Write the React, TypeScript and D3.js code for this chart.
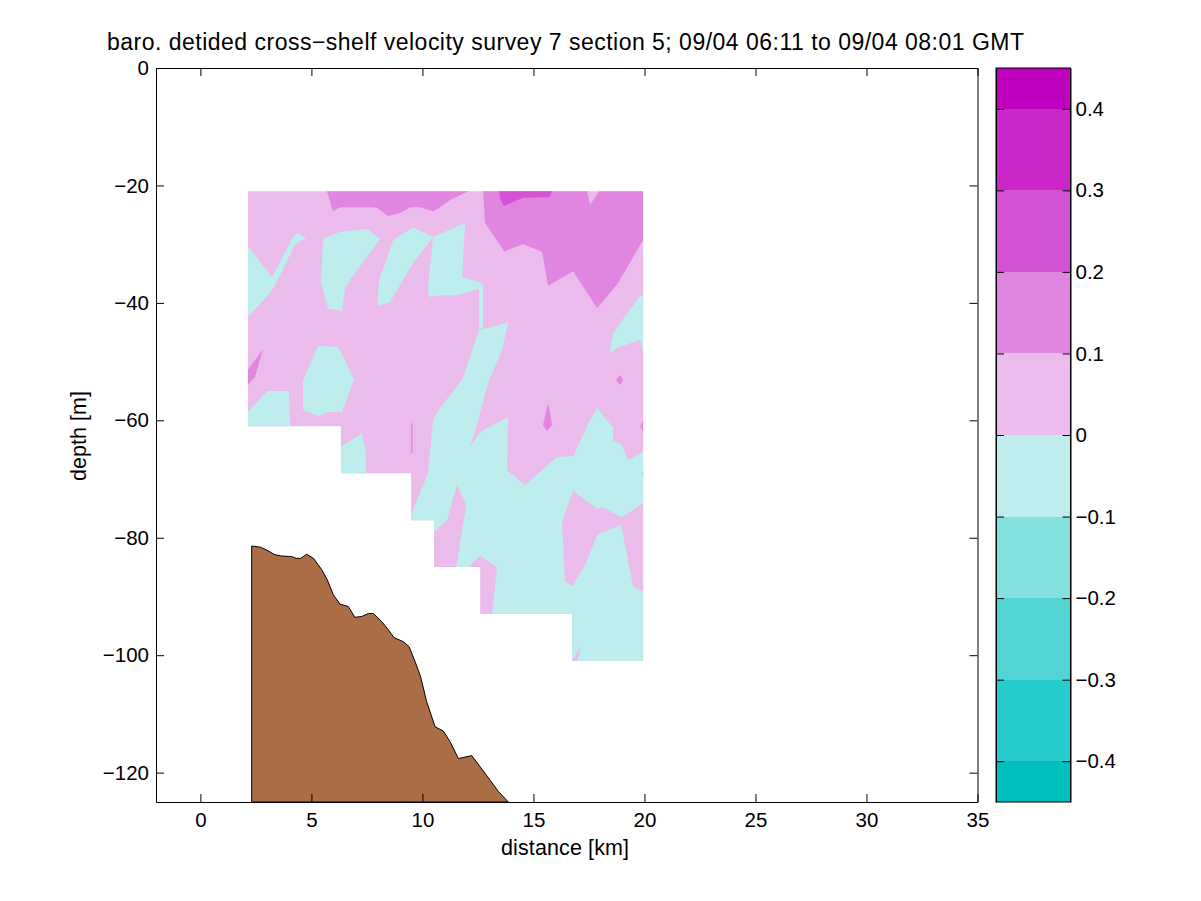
import * as d3 from "d3";
import { useEffect, useRef } from "react";

type Pt = [number, number];

const xTicks = [0, 5, 10, 15, 20, 25, 30, 35];
const yTicks = [0, -20, -40, -60, -80, -100, -120];
const barTicks = [-0.4, -0.3, -0.2, -0.1, 0, 0.1, 0.2, 0.3, 0.4];

const levelEdges = [-0.45, -0.4, -0.3, -0.2, -0.1, 0, 0.1, 0.2, 0.3, 0.4, 0.45];
const levelColors = [
  "#00bfbf",
  "#26cbcb",
  "#53d4d4",
  "#85e0e0",
  "#bdeded",
  "#ebbbeb",
  "#e085e0",
  "#d453d4",
  "#cb26c7",
  "#bf00bf",
];

// grid outline of the section, in km and m
const sectionOutline: Pt[] = [
  [2.14, -21], [19.94, -21], [19.94, -101], [16.74, -101], [16.74, -93],
  [12.6, -93], [12.6, -85], [10.52, -85], [10.52, -77], [9.49, -77],
  [9.49, -69], [6.33, -69], [6.33, -61], [2.14, -61],
];

// -0.1 to 0
const negativeAreas: Pt[][] = [
  [[2.14, -30.3], [3.23, -35.6], [4.17, -28.8], [4.4, -28.1], [4.76, -29], [4.49, -29.5], [4.26, -30.1], [3.36, -37], [3.14, -38.3], [2.14, -42.4]],
  [[5.52, -29.1], [6.29, -27.9], [7.51, -27.4], [8.09, -29.1], [6.74, -36.1], [6.51, -37.5], [6.38, -41.4], [5.75, -41], [5.43, -36.4]],
  [[8.68, -29.3], [9.58, -27.1], [10.48, -28.8], [9.58, -33.2], [8.54, -39.9], [7.96, -40.5], [8.05, -36.1]],
  [[10.48, -28.8], [11.92, -26.4], [11.79, -35.6], [12.69, -36.6], [12.55, -37.6], [11.6, -38.7], [10.79, -38.7], [10.3, -39], [10.25, -37.3]],
  [[12.55, -37.6], [12.73, -36.6], [12.73, -44.1], [12.55, -44.6]],
  [[5.3, -47.3], [6.2, -47.5], [6.51, -49.7], [6.92, -53.1], [6.38, -58.6], [5.75, -58.6], [5.3, -59.3], [4.62, -58.2], [4.62, -53.1]],
  [[2.14, -58.6], [3, -55], [3.99, -55], [4.04, -61], [2.14, -61]],
  [[6.33, -64.5], [7.28, -62.2], [7.46, -65.6], [7.46, -69], [6.33, -69]],
  [[19.81, -38.7], [19.94, -39], [19.94, -48.4], [19.81, -46.3], [18.77, -47.7], [18.41, -48.7], [18.59, -45.1]],
  [
    [12.55, -44.6], [13.86, -43.4], [13.59, -48], [12.96, -53.6], [12.37, -62], [12.1, -64.7], [12.6, -62],
    [13.86, -59.4], [13.81, -68.5], [14.62, -71], [16.07, -66.2], [16.79, -66.1], [17.55, -59.9], [17.87, -57.9],
    [18.59, -61.3], [18.59, -63.4], [18.99, -64.2], [19.26, -66.8], [19.94, -65.4], [19.94, -101], [16.74, -101],
    [16.74, -93], [13.14, -93], [13.36, -85], [12.6, -83.1], [12.06, -85], [11.52, -85], [11.97, -74.4], [11.56, -71],
    [11.11, -77], [10.52, -79], [10.52, -77], [9.49, -77], [9.49, -76.1], [10.25, -69], [10.48, -59.9], [10.79, -57.9], [11.79, -53.1],
  ],
];

// back to 0 to 0.1 inside the lower negative area
const positivePockets: Pt[][] = [
  [[16.79, -72], [16.29, -77.3], [16.42, -87.5], [16.74, -88.2], [17.33, -84.6], [17.87, -79.5], [18.95, -77.8], [19.49, -88.4], [19.94, -89.1], [19.94, -74.1], [18.99, -76.5], [18.09, -74.8], [17.87, -75.1]],
  [[16.74, -101], [17.15, -98.3], [16.97, -101]],
];

// 0.1 to 0.2
const midPositiveAreas: Pt[][] = [
  [[5.7, -21], [5.97, -24.4], [6.29, -23.7], [7.55, -23.7], [7.96, -23.8], [8.45, -25.2], [8.99, -24.7], [9.44, -23.7], [9.89, -23.7], [10.48, -24.4], [10.79, -23.7], [11.24, -22.5], [12.06, -21]],
  [[12.73, -21], [12.82, -26.4], [13.68, -31.2], [14.53, -30], [15.39, -31.3], [15.66, -37.1], [16.79, -34.6], [17.87, -40.9], [18.81, -36.6], [19.94, -29.3], [19.94, -21], [17.96, -21], [17.55, -23.3], [17.42, -21]],
  [[2.82, -47.9], [2.46, -52.6], [2.14, -54], [2.14, -51.4]],
  [[18.9, -52.3], [19.04, -53.1], [18.9, -54], [18.72, -53.1]],
  [[15.66, -57.1], [15.84, -60.8], [15.61, -61.8], [15.43, -60.8]],
  [[19.94, -59.9], [19.94, -62], [19.81, -61.1]],
  [[9.49, -60.5], [9.55, -60.5], [9.55, -65.6], [9.49, -65.6]],
];

// 0.2 to 0.3
const highPositiveAreas: Pt[][] = [
  [[13.45, -21], [13.5, -22.3], [13.68, -23.5], [14.53, -22.1], [15.7, -22], [15.84, -21]],
];

// -0.2 to -0.1
const lowNegativeAreas: Pt[][] = [
  [[19.94, -68.6], [19.94, -69.5], [19.85, -69]],
];

const bottomKm = [
  2.31, 2.69, 2.99, 3.36, 3.66, 4.11, 4.31, 4.52, 4.79, 5.09, 5.46, 5.72, 5.99, 6.29, 6.66, 6.96, 7.27, 7.57,
  7.79, 8.17, 8.47, 8.72, 9.14, 9.4, 9.67, 9.92, 10.19, 10.57, 10.94, 11.24, 11.62, 12.22, 12.6, 13.05, 13.42, 13.87,
];
const bottomDepth = [
  -81.4, -81.6, -82.1, -82.9, -83.1, -83.2, -83.5, -83.5, -82.8, -83.5, -85.4, -87.2, -89.75, -91.3, -91.7, -93.55, -93.4, -92.9,
  -92.9, -94.3, -95.7, -97, -97.7, -98.55, -101.1, -103.7, -107.9, -112.2, -112.9, -114.7, -117.6, -117.1, -119, -121.3, -123.2, -125,
];

const titleText = "baro. detided cross\u2212shelf velocity survey 7 section 5; 09/04 06:11 to 09/04 08:01 GMT";
const fontFamily = "'Liberation Sans', Arial, sans-serif";

const plot = { left: 156, right: 977.5, top: 68, bottom: 802 };
const bar = { left: 996, right: 1070.5 };
const tickLen = 8;
const tickFontSize = 20.5;
const labelFontSize = 21.5;

function App() {
  const ref = useRef<SVGSVGElement>(null);

  useEffect(() => {
    const svg = d3.select(ref.current);
    svg.selectAll("*").remove();

    const x = d3.scaleLinear().domain([-2, 35]).range([plot.left, plot.right]);
    const y = d3.scaleLinear().domain([-125, 0]).range([plot.bottom, plot.top]);
    const yBar = d3.scaleLinear().domain([-0.45, 0.45]).range([plot.bottom, plot.top]);

    const line = d3.line<Pt>().x((d) => x(d[0])).y((d) => y(d[1]));
    const shape = (p: Pt[]) => line(p) + "Z";

    const drawAreas = (areas: Pt[][], color: string) =>
      svg
        .append("g")
        .attr("fill", color)
        .selectAll("path")
        .data(areas)
        .join("path")
        .attr("d", shape);

    drawAreas([sectionOutline], levelColors[5]);
    drawAreas(negativeAreas, levelColors[4]);
    drawAreas(positivePockets, levelColors[5]);
    drawAreas(midPositiveAreas, levelColors[6]);
    drawAreas(highPositiveAreas, levelColors[7]);
    drawAreas(lowNegativeAreas, levelColors[3]);

    const bottom: Pt[] = bottomKm.map((k, i) => [k, bottomDepth[i]]);
    svg
      .append("path")
      .attr("d", shape([...bottom, [bottomKm[0], -125]]))
      .attr("fill", "#ab6d45")
      .attr("stroke", "#000")
      .attr("stroke-width", 1);

    // box axes, ticks pointing inwards on all four sides
    const styleAxis = (g: d3.Selection<SVGGElement, unknown, null, undefined>) => {
      g.selectAll("text").attr("font-family", fontFamily).attr("font-size", tickFontSize).attr("fill", "#000");
      g.selectAll("line").attr("stroke", "#000");
      g.select(".domain").attr("stroke", "#000");
    };
    const addAxis = (axis: d3.Axis<d3.NumberValue>, dx: number, dy: number) =>
      svg
        .append("g")
        .attr("transform", `translate(${dx},${dy})`)
        .call(axis as any)
        .call(styleAxis);

    addAxis(d3.axisBottom(x).tickValues(xTicks).tickSize(-tickLen).tickPadding(10).tickSizeOuter(0), 0, plot.bottom);
    addAxis(d3.axisTop(x).tickValues(xTicks).tickSize(-tickLen).tickFormat(() => "").tickSizeOuter(0), 0, plot.top);
    addAxis(d3.axisLeft(y).tickValues(yTicks).tickSize(-tickLen).tickPadding(7).tickSizeOuter(0), plot.left, 0);
    addAxis(d3.axisRight(y).tickValues(yTicks).tickSize(-tickLen).tickFormat(() => "").tickSizeOuter(0), plot.right, 0);

    // colour bar
    svg
      .append("g")
      .attr("shape-rendering", "crispEdges")
      .selectAll("rect")
      .data(levelColors)
      .join("rect")
      .attr("x", bar.left)
      .attr("width", bar.right - bar.left)
      .attr("y", (_, i) => yBar(levelEdges[i + 1]))
      .attr("height", (_, i) => yBar(levelEdges[i]) - yBar(levelEdges[i + 1]))
      .attr("fill", (d) => d);

    const barFormat = (d: d3.NumberValue) => (+d === 0 ? "0" : d3.format(".1f")(+d));
    addAxis(d3.axisRight(yBar).tickValues(barTicks).tickSize(-tickLen).tickPadding(5).tickFormat(barFormat).tickSizeOuter(0), bar.right, 0);
    addAxis(d3.axisLeft(yBar).tickValues(barTicks).tickSize(-tickLen).tickFormat(() => "").tickSizeOuter(0), bar.left, 0);
    svg
      .append("rect")
      .attr("x", bar.left)
      .attr("y", plot.top)
      .attr("width", bar.right - bar.left)
      .attr("height", plot.bottom - plot.top)
      .attr("fill", "none")
      .attr("stroke", "#000");

    const addText = (t: string, px: number, py: number, size: number, width: number, rotate = 0) =>
      svg
        .append("text")
        .attr("transform", `translate(${px},${py}) rotate(${rotate})`)
        .attr("text-anchor", "middle")
        .attr("font-family", fontFamily)
        .attr("font-size", size)
        .attr("textLength", width)
        .attr("lengthAdjust", "spacing")
        .attr("fill", "#000")
        .text(t);

    addText(titleText, 565.5, 50, 23, 917);
    addText("distance [km]", 565, 855, labelFontSize, 128);
    addText("depth [m]", 86, 436, labelFontSize, 90, -90);
  }, []);

  return (
    <svg
      ref={ref}
      width={1201}
      height={901}
      style={{ position: "absolute", left: 0, top: 0, background: "#fff" }}
    />
  );
}

export default App;
